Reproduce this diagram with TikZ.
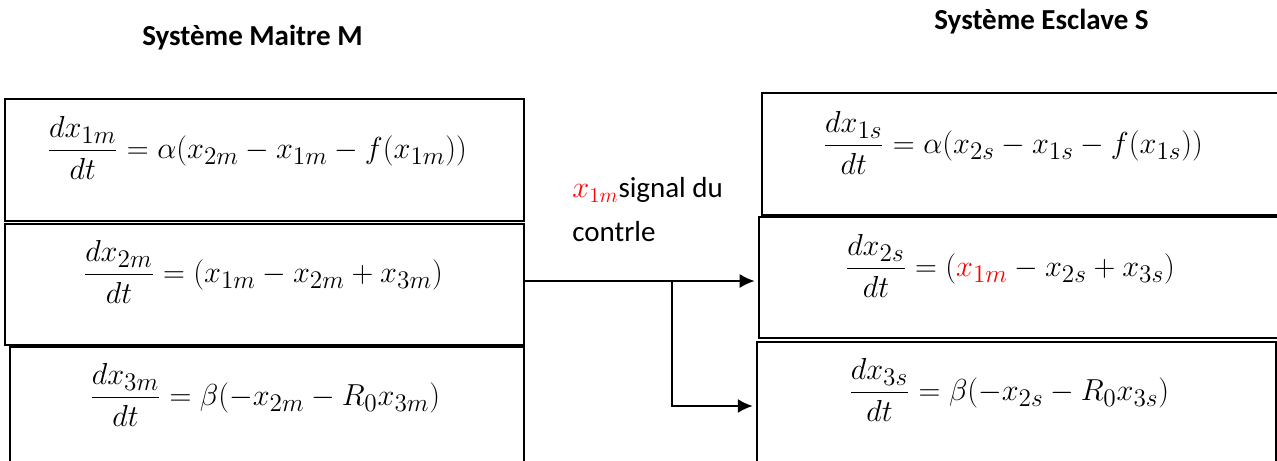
\documentclass[tikz,border=0pt]{standalone}
\usepackage{amsmath}
\usepackage{fontspec}
\setmainfont{Carlito}
\usepackage{xcolor}
\usepackage{tikz}
\usetikzlibrary{arrows.meta, calc}
\newcommand{\pxu}{0.02cm}
\tikzset{
  sysbox/.style={draw, line width=1pt, inner sep=0pt, minimum width=#1*\pxu},
  eqn/.style={font=\fontsize{19}{23}\selectfont, inner sep=0pt},
  titre/.style={font=\fontsize{16.5}{20}\selectfont\bfseries, anchor=base, inner sep=0pt},
  signal/.style={line width=1pt, -{Latex[length=8.5pt,width=8pt]}, shorten >=2pt},
}

\begin{document}
\begin{tikzpicture}[x=\pxu, y=-\pxu]
\clip (0,0) rectangle (1277,460);
% systeme maitre
\node[titre] (tM) at (252.5,45) {Système Maitre M};
\node[sysbox=519, minimum height=122*\pxu] (m1) at (264.5,160) {};
\node[sysbox=519, minimum height=121*\pxu] (m2) at (264.5,284.5) {};
\node[sysbox=514, minimum height=123*\pxu] (m3) at (267,408.5) {};
\node[eqn] (em1) at (257,148) {$\dfrac{dx_{1m}}{dt}=\alpha(x_{2m}-x_{1m}-f(x_{1m}))$};
\node[eqn] (em2) at (263,272) {$\dfrac{dx_{2m}}{dt}=(x_{1m}-x_{2m}+x_{3m})$};
\node[eqn] (em3) at (265,395) {$\dfrac{dx_{3m}}{dt}=\beta(-x_{2m}-R_0x_{3m})$};
% systeme esclave
\node[titre] (tS) at (1041.5,29) {Système Esclave S};
\node[sysbox=528, minimum height=122*\pxu] (s1) at (1026,154) {};
\node[sysbox=531, minimum height=121*\pxu] (s2) at (1024.5,277.5) {};
\node[sysbox=518.6, minimum height=128*\pxu] (s3) at (1016.4,406) {};
\node[eqn] (es1) at (1013,143) {$\dfrac{dx_{1s}}{dt}=\alpha(x_{2s}-x_{1s}-f(x_{1s}))$};
\node[eqn] (es2) at (1010,266) {$\dfrac{dx_{2s}}{dt}=({\color{red}x_{1m}}-x_{2s}+x_{3s})$};
\node[eqn] (es3) at (1009,390) {$\dfrac{dx_{3s}}{dt}=\beta(-x_{2s}-R_0x_{3s})$};
% signal de controle
\node[anchor=base west, align=left, inner sep=0pt, font=\fontsize{16.5}{24.5}\selectfont] (lab) at (572,241)
  {{\fontsize{18}{22}\selectfont$\color{red}x_{1m}$}signal du\\contrle};
\coordinate (split) at (672,281);
\draw[signal] (split -| m2.east) -- (split -| s2.west);
\draw[signal] (split) |- (s3.west);
\end{tikzpicture}
\end{document}
